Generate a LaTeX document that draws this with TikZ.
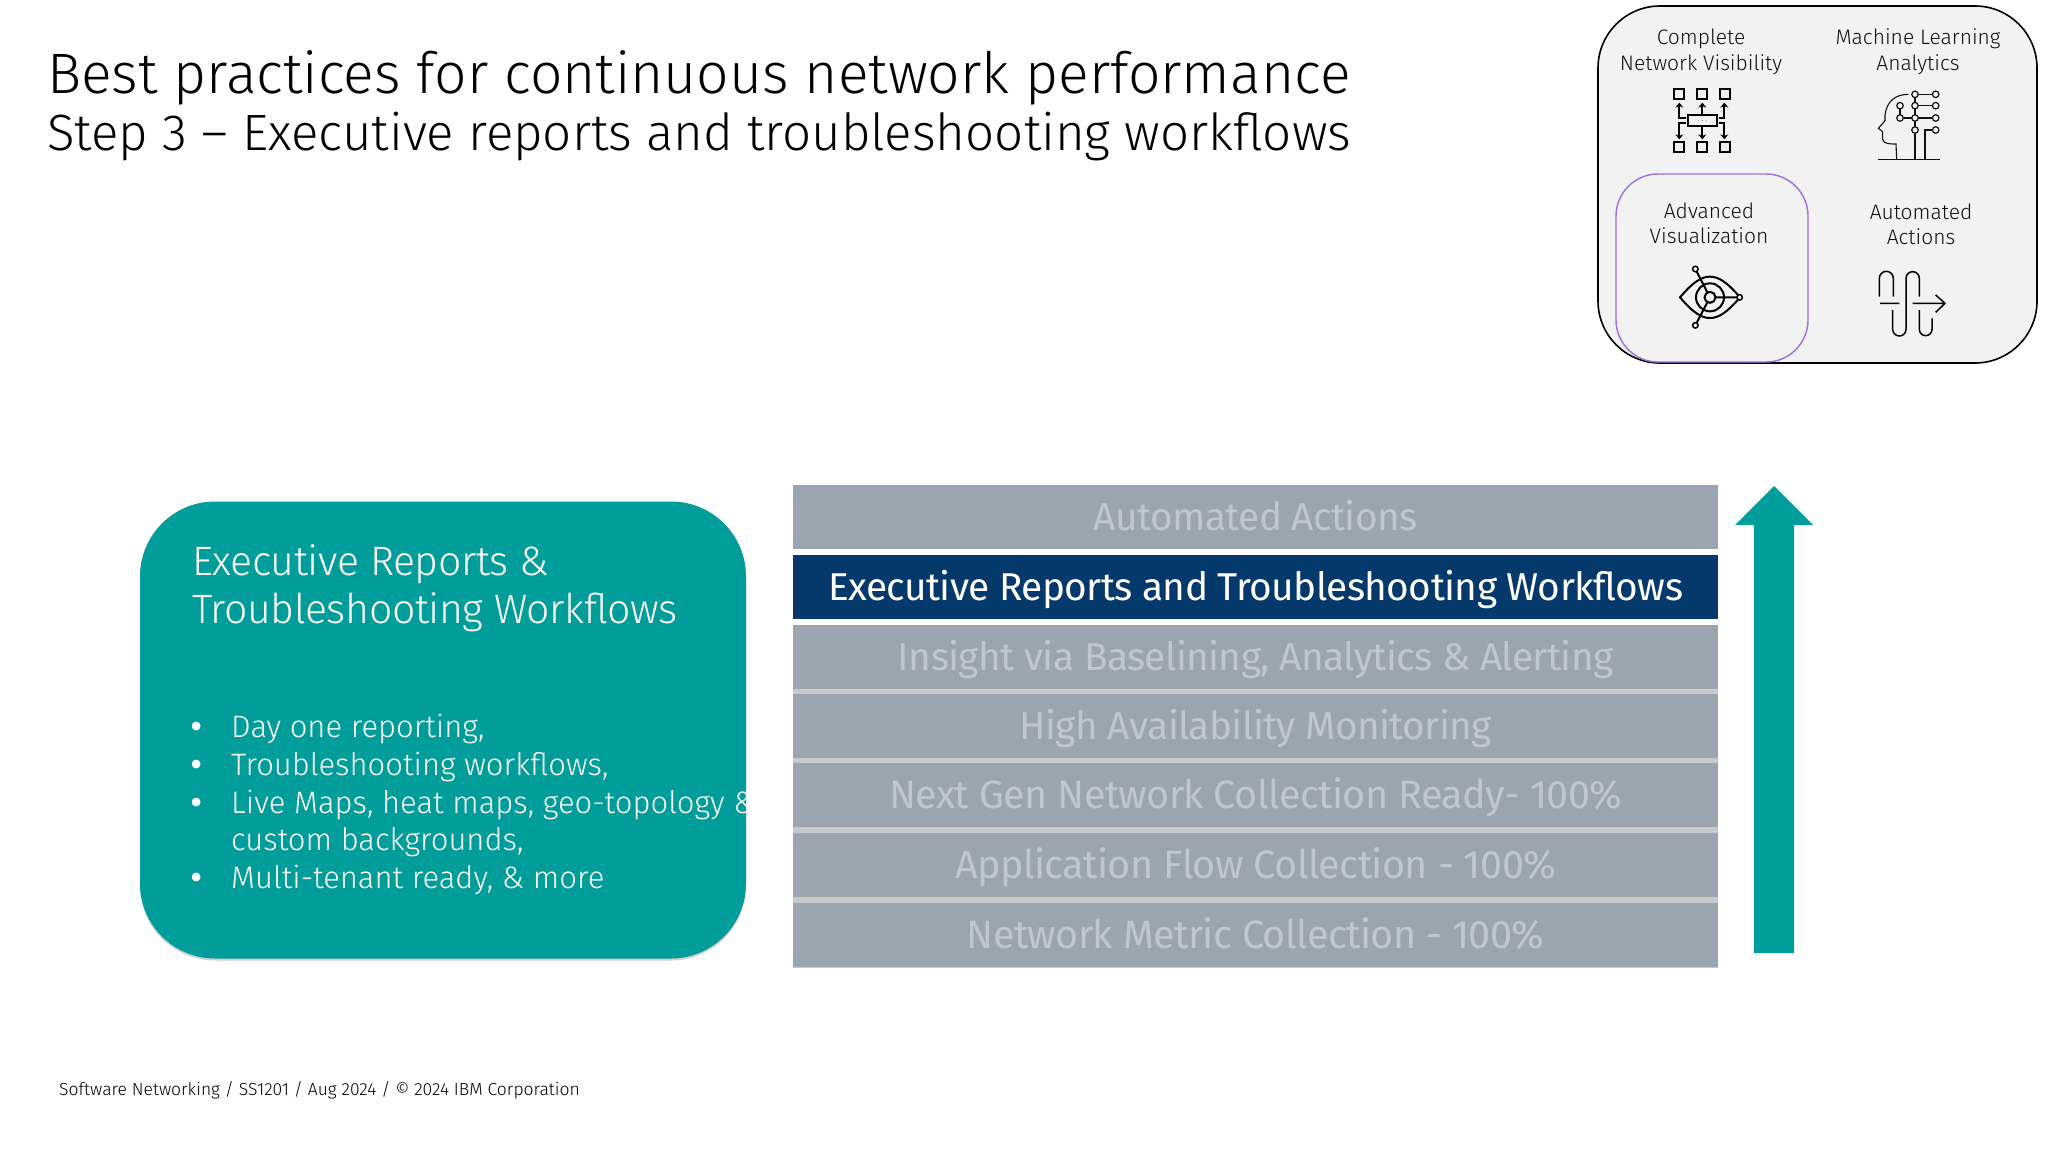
\documentclass[tikz,border=0pt]{standalone}
\usepackage{fontspec}
\setmainfont{Fira Sans}[UprightFont=* Light]
\newfontfamily\rowfont{Fira Sans}[LetterSpace=-1.5]
\newfontfamily\headfont{Fira Sans}[UprightFont=* Light,LetterSpace=-1]
\usetikzlibrary{math,arrows.meta}

\definecolor{tealbox}{HTML}{009D9A}
\definecolor{navyrow}{HTML}{05386B}
\definecolor{grayrow}{HTML}{9AA5AF}
\definecolor{grayrowtext}{HTML}{BFC7CE}
\definecolor{rowgap}{HTML}{C6CACE}
\definecolor{insetfill}{HTML}{F2F2F2}
\definecolor{insetpurple}{HTML}{9B6FE6}
\definecolor{inktext}{HTML}{111111}

\tikzset{
  rowbox/.style={fill=grayrow, text=grayrowtext, minimum width=925, minimum height=64, inner sep=0, anchor=north west, font=\rowfont\fontsize{38.8}{38.8}\selectfont, text height=30, text depth=3},
  rowwide/.style={rowbox, font=\rowfont\fontsize{39.6}{39.6}\selectfont},
  insetlabel/.style={text=inktext, inner sep=0, align=center, font=\fontsize{21}{25.5}\selectfont},
  iconline/.style={line width=2, draw=black},
  thinline/.style={line width=1.5, draw=black},
  brainline/.style={line width=1.1, draw=inktext},
  iconnode/.style={circle, draw=inktext, line width=1.2, fill=insetfill, minimum size=6.5, inner sep=0},
  eyenode/.style={circle, draw=black, line width=1.5, fill=insetfill, minimum size=5.5, inner sep=0},
  bulletitem/.style={text=white, inner sep=0, anchor=base west, font=\fontsize{31}{31}\selectfont},
  bulletdot/.style={text=white, inner sep=0, anchor=base, font=\rowfont\fontsize{38}{38}\selectfont}
}

\begin{document}
\begin{tikzpicture}[x=1pt,y=-1pt]
      \tikzmath{\tipx = 1774; \tipy = 486; \neck = 525; \foot = 953; \shaft = 20; \head = 39;}
      \useasboundingbox (0,0) rectangle (2048,1152);
      \fill[white] (0,0) rectangle (2048,1152);
      % title
      \node[anchor=base west, inner sep=0, text=black, font=\fontsize{57}{57}\selectfont] (title) at (47,93) {Best practices for continuous network performance};
      \node[anchor=base west, inner sep=0, text=black, font=\fontsize{51}{51}\selectfont] (subtitle) at (47,150) {Step 3 -- Executive reports and troubleshooting workflows};
      % inset panel
      \node[draw=black, line width=1.6, fill=insetfill, rounded corners=62, minimum width=439, minimum height=357, inner sep=0] (inset) at (1817.5,184.5) {};
      \node[draw=insetpurple, line width=1.4, fill=insetfill, rounded corners=42, minimum width=192, minimum height=188, inner sep=0] (advbox) at (1712,268) {};
      \node[insetlabel] (visib) at (1701,52) {Complete\\Network Visibility};
      \node[insetlabel] (mlana) at (1918,51.5) {Machine Learning\\Analytics};
      \node[insetlabel] (advis) at (1709,223.5) {Advanced\\Visualization};
      \node[insetlabel] (autoact) at (1921,224.5) {Automated\\Actions};
      % network icon
      \begin{scope}[shift={(1590,0)},scale=1/3]
        \draw[iconline] (253,268) rectangle (283,298);
        \draw[iconline] (322,268) rectangle (352,298);
        \draw[iconline] (389,268) rectangle (419,298);
        \draw[iconline] (253,427) rectangle (283,457);
        \draw[iconline] (322,427) rectangle (352,457);
        \draw[iconline] (389,427) rectangle (419,457);
        \draw[iconline] (295,346) rectangle (380,378);
        \fill (326,362) circle (1pt) (337,362) circle (1pt) (348,362) circle (1pt);
        \draw[iconline,-{Stealth[length=5,width=8]}] (288,355) -- (268,355) -- (268,308);
        \draw[iconline,-{Stealth[length=5,width=8]}] (337,346) -- (337,308);
        \draw[iconline,-{Stealth[length=5,width=8]}] (387,355) -- (403,355) -- (403,308);
        \draw[iconline,-{Stealth[length=5,width=8]}] (288,369) -- (268,369) -- (268,418);
        \draw[iconline,-{Stealth[length=5,width=8]}] (337,378) -- (337,418);
        \draw[iconline,-{Stealth[length=5,width=8]}] (387,369) -- (403,369) -- (403,418);
      \end{scope}
      % brain icon
      \begin{scope}[shift={(1590,0)},scale=1/3]
        \draw[brainline] (955,283) .. controls (915,283) and (890,305) .. (885,345) -- (885,362) -- (865,385) -- (878,395) -- (878,418) .. controls (880,432) and (900,432) .. (918,432) -- (920,478);
        \draw[brainline] (863,478) -- (1050,478);
        \draw[brainline] (975,283) -- (1037,283) (975,317) -- (1037,317) (930,354) -- (1037,354) (930,317) -- (930,354) (975,283) -- (975,478) (1005,478) -- (1005,390) -- (1037,390);
        \node[iconnode] (b1) at (975,283) {};
        \node[iconnode] (b2) at (975,317) {};
        \node[iconnode] (b3) at (975,354) {};
        \node[iconnode] (b4) at (975,390) {};
        \node[iconnode] (b5) at (1037,283) {};
        \node[iconnode] (b6) at (1037,317) {};
        \node[iconnode] (b7) at (1037,354) {};
        \node[iconnode] (b8) at (1037,390) {};
        \node[iconnode] (b9) at (930,317) {};
        \node[iconnode] (b10) at (930,354) {};
      \end{scope}
      % eye icon
      \begin{scope}[shift={(1590,170)},scale=1/3]
        \draw[iconline] (270,382) .. controls (310,335) and (335,320) .. (360,320) .. controls (385,320) and (410,335) .. (450,382) .. controls (410,429) and (385,444) .. (360,444) .. controls (335,444) and (310,429) .. (270,382) -- cycle;
        \draw[iconline] (360,382) circle (42);
        \draw[iconline] (316,297) -- (360,382) -- (316,466) (360,382) -- (449,382);
        \node[eyenode,line width=2,minimum size=11] (e0) at (360,382) {};
        \node[eyenode] (e1) at (316,297) {};
        \node[eyenode] (e2) at (316,466) {};
        \node[eyenode] (e3) at (449,382) {};
      \end{scope}
      % actions icon
      \begin{scope}[shift={(1590,170)},scale=1/3]
        \draw[thinline] (868,380) -- (868,325) arc (180:360:21) -- (910,380);
        \draw[thinline] (908,420) -- (908,478) arc (180:0:20) -- (948,325) arc (180:360:20) -- (988,380);
        \draw[thinline] (988,420) -- (988,478) arc (180:0:19) -- (1026,445);
        \draw[thinline] (870,400) -- (928,400) (968,400) -- (1065,400) (1037,375) -- (1065,400) -- (1037,427);
      \end{scope}
      % stack of rows
      \node[fill=rowgap, minimum width=925, minimum height=343, inner sep=0, anchor=north west] (stackback) at (793,624.5) {};
      \node[rowbox] (actions) at (793,485) {Automated Actions};
      \node[rowbox, fill=navyrow, text=white] (reports) at (793,555) {Executive Reports and Troubleshooting Workflows};
      \node[rowbox] (insight) at (793,624.5) {Insight via Baselining, Analytics \& Alerting};
      \node[rowbox] (avail) at (793,694) {High Availability Monitoring};
      \node[rowwide] (nextgen) at (793,763) {Next Gen Network Collection Ready- 100\%};
      \node[rowwide] (flow) at (793,833) {Application Flow Collection - 100\%};
      \node[rowwide] (metric) at (793,903) {Network Metric Collection - 100\%};
      % arrow
      \fill[tealbox] (\tipx,\tipy) -- (\tipx+\head,\neck) -- (\tipx+\shaft,\neck) -- (\tipx+\shaft,\foot) -- (\tipx-\shaft,\foot) -- (\tipx-\shaft,\neck) -- (\tipx-\head,\neck) -- cycle;
      % teal box
      \node[fill=black!18, rounded corners=75, minimum width=606, minimum height=457, inner sep=0] (tealshade) at (443,732) {};
      \node[fill=tealbox, rounded corners=75, minimum width=606, minimum height=457, inner sep=0] (teal) at (443,730) {};
      \node[anchor=base west, inner sep=0, text=white, font=\headfont\fontsize{41}{48}\selectfont] (tealhead) at (192,575) {Executive Reports \&};
      \node[anchor=base west, inner sep=0, text=white, font=\headfont\fontsize{41}{48}\selectfont] (tealhead2) at (192,623) {Troubleshooting Workflows};
      \node[bulletdot] (d1) at (197,739) {•};
      \node[bulletitem] (l1) at (231,737) {Day one reporting,};
      \node[bulletdot] (d2) at (197,777) {•};
      \node[bulletitem] (l2) at (231,775) {Troubleshooting workflows,};
      \node[bulletdot] (d3) at (197,815) {•};
      \node[bulletitem] (l3) at (231,813) {Live Maps, heat maps, geo-topology \&};
      \node[bulletitem] (l4) at (231,850) {custom backgrounds,};
      \node[bulletdot] (d5) at (197,890) {•};
      \node[bulletitem] (l5) at (231,888) {Multi-tenant ready, \& more};
      % footer
      \node[anchor=base west, inner sep=0, text=black, font=\fontsize{17.5}{18}\selectfont] (footer) at (59,1095) {Software Networking / SS1201 / Aug 2024 / © 2024 IBM Corporation};
    \end{tikzpicture}
\end{document}
